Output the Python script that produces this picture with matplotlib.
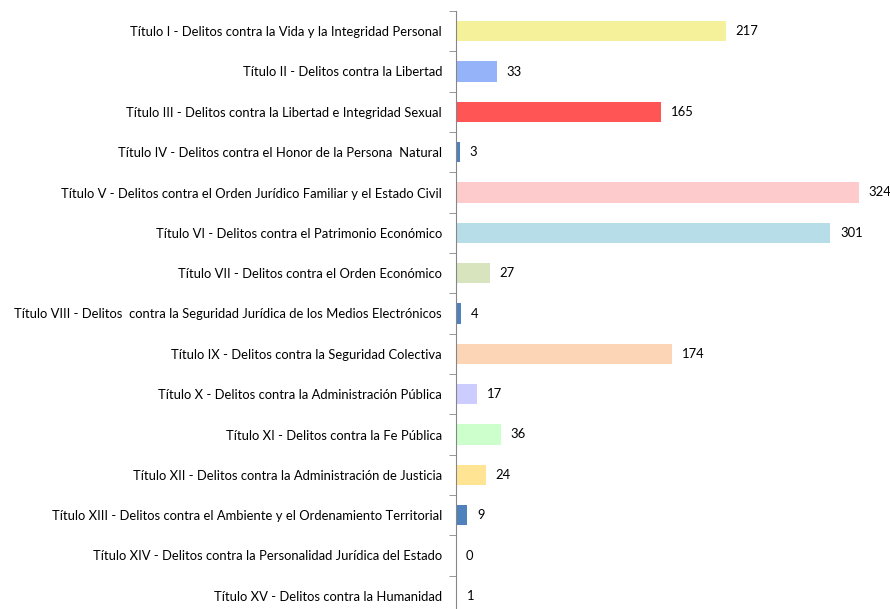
import matplotlib.pyplot as plt
import numpy as np

categories = [
    "Título I - Delitos contra la Vida y la Integridad Personal",
    "Título II - Delitos contra la Libertad",
    "Título III - Delitos contra la Libertad e Integridad Sexual",
    "Título IV - Delitos contra el Honor de la Persona  Natural",
    "Título V - Delitos contra el Orden Jurídico Familiar y el Estado Civil",
    "Título VI - Delitos contra el Patrimonio Económico",
    "Título VII - Delitos contra el Orden Económico",
    "Título VIII - Delitos  contra la Seguridad Jurídica de los Medios Electrónicos",
    "Título IX - Delitos contra la Seguridad Colectiva",
    "Título X - Delitos contra la Administración Pública",
    "Título XI - Delitos contra la Fe Pública",
    "Título XII - Delitos contra la Administración de Justicia",
    "Título XIII - Delitos contra el Ambiente y el Ordenamiento Territorial",
    "Título XIV - Delitos contra la Personalidad Jurídica del Estado",
    "Título XV - Delitos contra la Humanidad",
]
values = [217, 33, 165, 3, 324, 301, 27, 4, 174, 17, 36, 24, 9, 0, 1]
colors = ["#F5F09A", "#95B3F9", "#FF5555", "#4F81BD", "#FDCBCB", "#B7DDE8",
          "#D7E4BD", "#4F81BD", "#FBD5B5", "#CCCCFF", "#CCFFCC", "#FFE593",
          "#4F81BD", "#4F81BD", "#4F81BD"]

plt.rcParams["font.family"] = ["Lato", "DejaVu Sans"]

fig = plt.figure(figsize=(8.9, 6.09), dpi=100)
ax = fig.add_axes([456 / 890, -7 / 609, 350 * 1.244 / 890, 605 / 609])

y = np.arange(len(categories))
ax.barh(y, values, height=0.5, color=colors)
for yi, v in zip(y, values):
    ax.annotate(str(v), (v, yi), xytext=(7, 0), textcoords="offset points",
                va="center", ha="left", fontsize=9.4)

ax.set_xlim(0, 350)
ax.set_ylim(len(categories) - 0.5, -0.5)
ax.set_yticks(y)
ax.set_yticklabels(categories, fontsize=9.4)
ax.tick_params(axis="y", length=0, pad=10)
ax.set_yticks(np.arange(len(categories) + 1) - 0.5, minor=True)
ax.tick_params(axis="y", which="minor", length=5, color="#868686", direction="out")
ax.set_xticks([])
for s in ["top", "right", "bottom"]:
    ax.spines[s].set_visible(False)
ax.spines["left"].set_color("#868686")

fig.savefig("out.png", dpi=100)
